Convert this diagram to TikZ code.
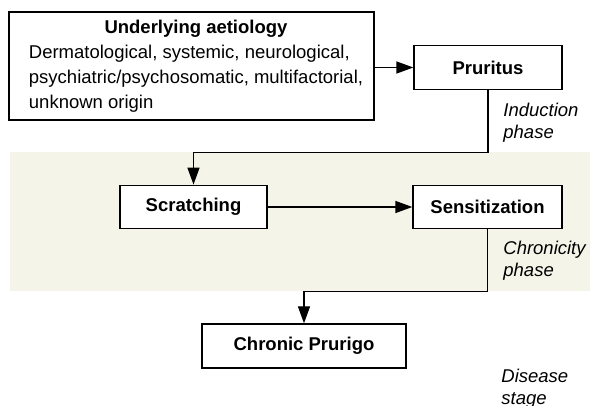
\documentclass[tikz,border=0pt]{standalone}
\usepackage{fontspec}
\setmainfont{Liberation Sans}
\usetikzlibrary{arrows.meta}
\definecolor{bandfill}{HTML}{F4F5E8}
\tikzset{
  stagebox/.style={draw, line width=0.65pt, fill=white, font=\bfseries,
    minimum height=21.75pt, inner sep=2pt},
  link/.style={line width=0.65pt, -{Triangle[length=8.5pt,width=6pt]}},
  phaselabel/.style={font=\itshape\fontsize{9.25}{11}\selectfont,
    align=left, anchor=west, inner sep=0pt}
}
\begin{document}
\fontsize{9.25}{12.5}\selectfont
\begin{tikzpicture}[x=0.5pt, y=-0.5pt]
  \useasboundingbox (0,0) rectangle (590,406);
  % chronicity band
  \fill[bandfill] (10,152) rectangle (590,291);
  % stages
  \node[stagebox, font=\normalfont, minimum width=182.5pt, minimum height=53pt]
    (aetiology) at (191.5,66)
    {\hspace*{4.5pt}\begin{tabular}{@{}l@{}}
       \multicolumn{1}{@{}c@{}}{\textbf{Underlying aetiology}}\\
       Dermatological, systemic, neurological,\\
       psychiatric/psychosomatic, multifactorial,\\
       unknown origin
     \end{tabular}};
  \node[stagebox, minimum width=74pt] (pruritus) at (488,67.5) {Pruritus};
  \node[stagebox, minimum width=73.5pt] (scratching) at (193.5,207) {Scratching};
  \node[stagebox, minimum width=74.5pt] (sensitization) at (487.5,207) {Sensitization};
  \node[stagebox, minimum width=102pt, minimum height=22pt] (prurigo) at (304,346) {Chronic Prurigo};
  % phases
  \node[phaselabel] (induction) at (503,123) {Induction\\phase};
  \node[phaselabel] (chronicity) at (503,261) {Chronicity\\phase};
  \node[phaselabel] (disease) at (501,388.5) {Disease\\stage};
  % links
  \draw[link] (aetiology.east |- pruritus) -- (pruritus.west);
  \draw[link] (pruritus.south) -- ++(0,62.5) -| (scratching.north);
  \draw[link] (scratching) -- (sensitization);
  \draw[link] (sensitization.south) -- ++(0,62) -| (prurigo.north);
\end{tikzpicture}
\end{document}
